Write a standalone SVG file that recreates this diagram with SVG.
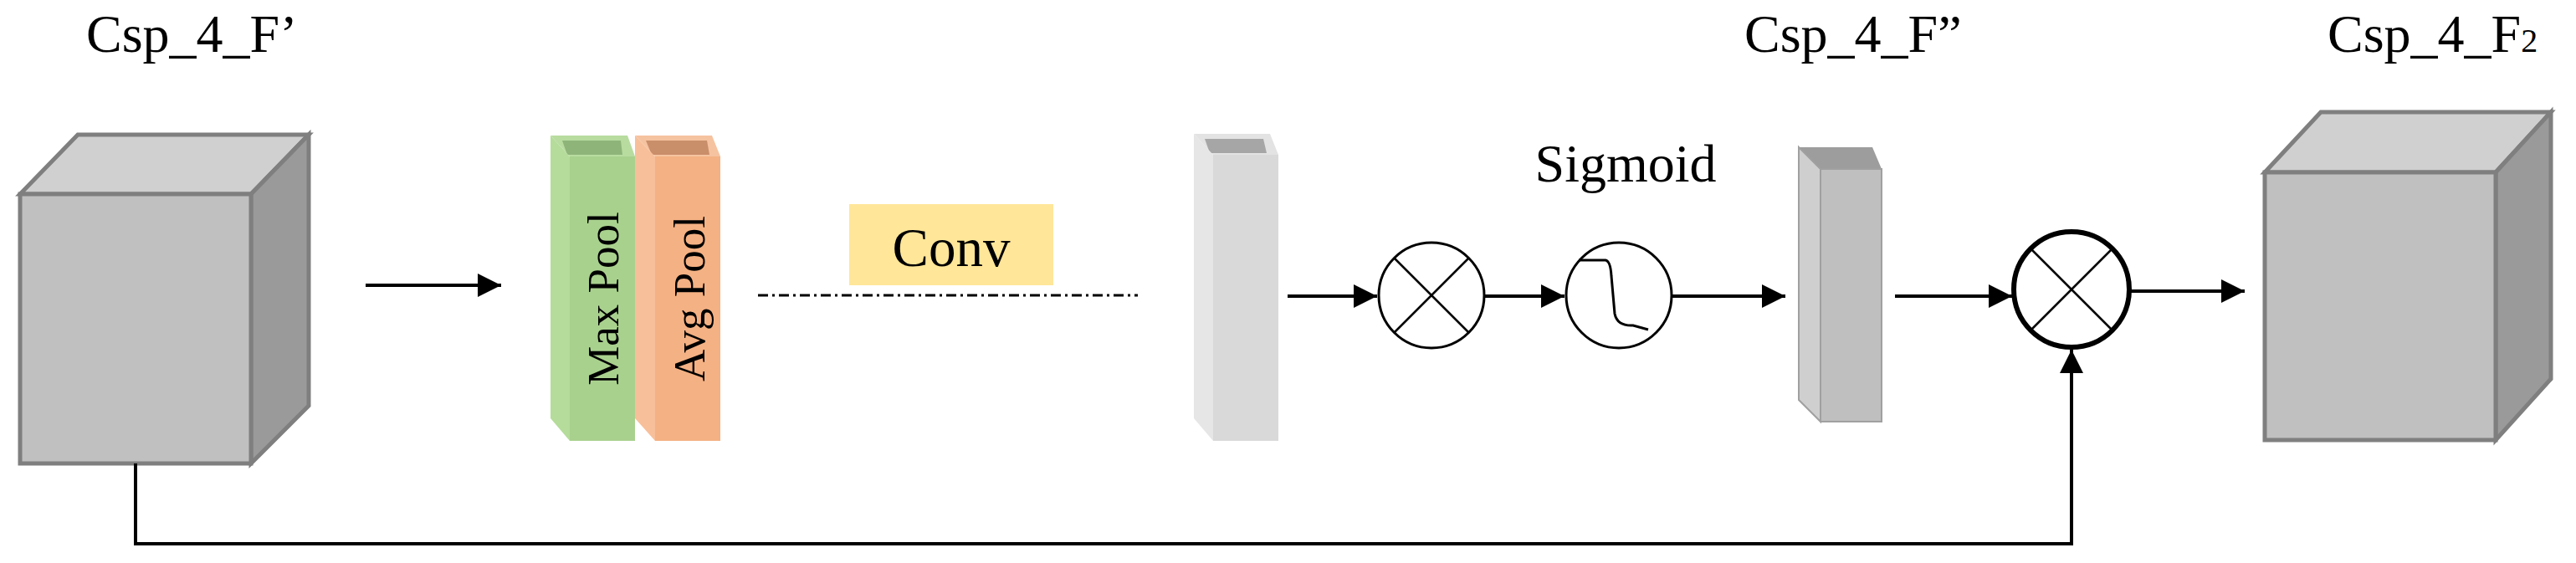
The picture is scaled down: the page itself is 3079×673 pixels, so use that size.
<svg xmlns="http://www.w3.org/2000/svg" width="3079" height="673" viewBox="0 0 3079 673">
<defs>
<style>
.t{font-family:"Liberation Serif",serif;fill:#000}
.c{stroke:#000;stroke-width:4;fill:none}
.cube{stroke:#7f7f7f;stroke-width:5}
</style>
<marker id="ah" markerWidth="10" markerHeight="10" refX="9" refY="5" orient="auto" markerUnits="userSpaceOnUse" viewBox="0 0 10 10"><path d="M0,0 L10,5 L0,10 z" fill="#000"/></marker>
<marker id="a" viewBox="0 0 10 10" refX="10" refY="5" markerWidth="7" markerHeight="7" orient="auto"><path d="M0,0 L10,5 L0,10 z" fill="#000"/></marker>
</defs>
<rect width="3079" height="673" fill="#fff"/>
<g id="cube1">
<polygon class="cube" points="24,232 93,161 369,161 300,232" fill="#d0d0d0"/>
<polygon class="cube" points="300,232 369,161 369,485 300,554" fill="#9a9a9a"/>
<rect class="cube" x="24" y="232" width="276" height="322" fill="#c0c0c0"/>
<text class="t" x="103" y="62" font-size="64">Csp_4_F’</text>
</g>
<g id="maxpool">
<polygon points="658,162 750,162 759,187 681,187" fill="#b8dca0"/>
<polygon points="672,168 742,168 744,185 678,185" fill="#8fb47a"/>
<polygon points="658,162 681,187 681,527 658,500" fill="#b5dc9b"/>
<rect x="681" y="187" width="78" height="340" fill="#a9d18e"/>
<text class="t" font-size="53" text-anchor="middle" transform="translate(739,357) rotate(-90)">Max Pool</text>
</g>
<g id="avgpool">
<polygon points="759,162 851,162 861,187 783,187" fill="#f6c3a0"/>
<polygon points="772,168 845,168 848,185 779,185" fill="#c98e6a"/>
<polygon points="759,162 783,187 783,527 759,500" fill="#f7c09a"/>
<rect x="783" y="187" width="78" height="340" fill="#f4b183"/>
<text class="t" font-size="53" text-anchor="middle" transform="translate(842,357) rotate(-90)">Avg Pool</text>
</g>
<g id="conv">
<rect x="1015" y="244" width="244" height="97" fill="#ffe699"/>
<text class="t" x="1137" y="318" font-size="65" text-anchor="middle">Conv</text>
</g>
<g id="bar1">
<polygon points="1427,160 1518,160 1528,185 1450,185" fill="#e3e3e3"/>
<polygon points="1440,166 1510,166 1514,183 1446,183" fill="#a6a6a6"/>
<polygon points="1427,160 1450,185 1450,527 1427,500" fill="#e6e6e6"/>
<rect x="1450" y="185" width="78" height="342" fill="#d9d9d9"/>
</g>
<g id="mul1">
<circle cx="1711" cy="353" r="63" fill="#fff" stroke="#000" stroke-width="3"/>
<path d="M1667,309 L1755,397 M1755,309 L1667,397" stroke="#000" stroke-width="2.5"/>
</g>
<g id="sigmoid">
<circle cx="1935" cy="353" r="63" fill="#fff" stroke="#000" stroke-width="3"/>
<path d="M1887,311 L1919,311 Q1925,312 1926,330 L1930,375 Q1933,390 1952,389 L1970,394" fill="none" stroke="#000" stroke-width="3"/>
<text class="t" x="1943" y="217" font-size="64" text-anchor="middle">Sigmoid</text>
</g>
<g id="bar2">
<polygon points="2150,176 2238,176 2249,202 2176,202" fill="#9d9d9d"/>
<polygon points="2150,176 2176,202 2176,504 2150,478" fill="#cfcfcf" stroke="#a0a0a0" stroke-width="2"/>
<rect x="2176" y="202" width="73" height="302" fill="#bfbfbf" stroke="#a0a0a0" stroke-width="2"/>
<text class="t" x="2085" y="62" font-size="64">Csp_4_F”</text>
</g>
<g id="mul2">
<circle cx="2476" cy="346" r="69" fill="#fff" stroke="#000" stroke-width="6"/>
<path d="M2427,297 L2525,395 M2525,297 L2427,395" stroke="#000" stroke-width="2.5"/>
</g>
<g id="cube2">
<polygon class="cube" points="2707,206 2774,134 3049,134 2983,206" fill="#d0d0d0"/>
<polygon class="cube" points="2983,206 3049,134 3049,453 2983,526" fill="#9a9a9a"/>
<rect class="cube" x="2707" y="206" width="276" height="320" fill="#c0c0c0"/>
<text class="t" x="2782" y="62" font-size="64">Csp_4_F<tspan font-size="40">2</tspan></text>
</g>
<g id="connectors">
<line class="c" x1="437" y1="341" x2="599" y2="341" marker-end="url(#a)"/>
<line x1="906" y1="353" x2="1360" y2="353" stroke="#000" stroke-width="3" stroke-dasharray="12,5,3,5"/>
<line class="c" x1="1539" y1="354" x2="1646" y2="354" marker-end="url(#a)"/>
<line class="c" x1="1775" y1="354" x2="1870" y2="354" marker-end="url(#a)"/>
<line class="c" x1="1999" y1="354" x2="2134" y2="354" marker-end="url(#a)"/>
<line class="c" x1="2265" y1="354" x2="2405" y2="354" marker-end="url(#a)"/>
<line class="c" x1="2546" y1="348" x2="2683" y2="348" marker-end="url(#a)"/>
<polyline class="c" points="162,554 162,650 2476,650 2476,418" marker-end="url(#a)"/>
</g>
</svg>
